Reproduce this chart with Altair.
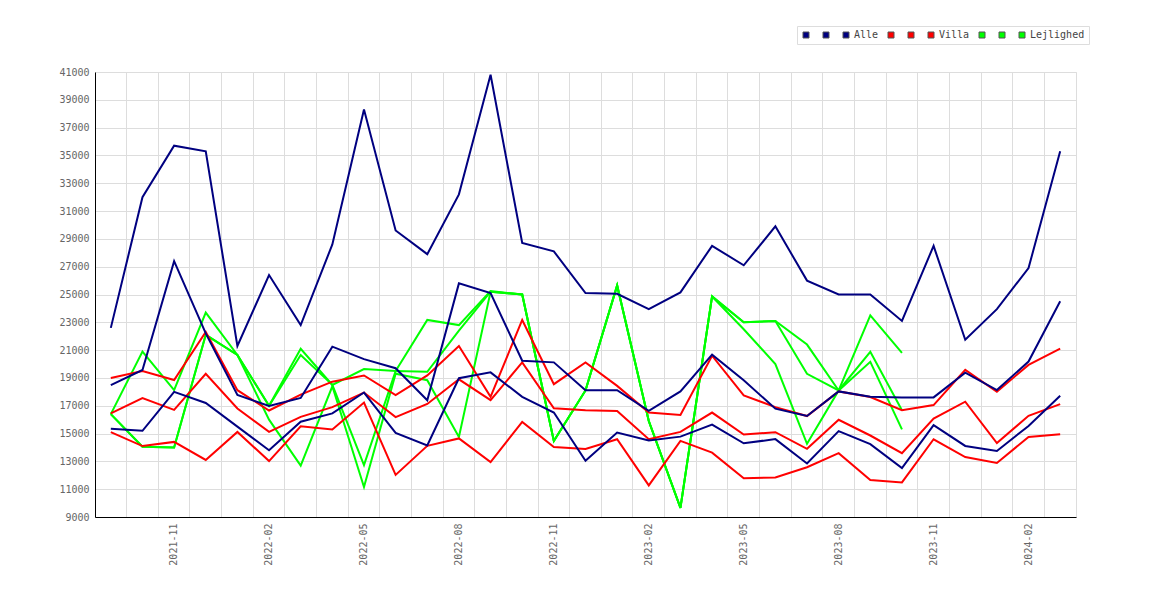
import altair as alt
import pandas as pd

months = ["2021-09", "2021-10", "2021-11", "2021-12", "2022-01", "2022-02", "2022-03",
          "2022-04", "2022-05", "2022-06", "2022-07", "2022-08", "2022-09", "2022-10",
          "2022-11", "2022-12", "2023-01", "2023-02", "2023-03", "2023-04", "2023-05",
          "2023-06", "2023-07", "2023-08", "2023-09", "2023-10", "2023-11", "2023-12",
          "2024-01", "2024-02", "2024-03"]

alle_high = [22600, 32000, 35700, 35300, 21300, 26400, 22800, 28600, 38300, 29600, 27900,
             32200, 40800, 28700, 28100, 25100, 25050, 23950, 25150, 28500, 27100, 29900,
             26000, 25000, 25000, 23100, 28500, 21750, 23950, 26900, 35300]
alle_mid = [18490, 19570, 27400, 22200, 17770, 16980, 17560, 21250, 20350, 19700, 17400,
            25800, 25100, 20240, 20120, 18120, 18120, 16630, 18030, 20670, 18830, 16790,
            16260, 18030, 17650, 17600, 17600, 19380, 18130, 20180, 24520]
alle_low = [15340, 15200, 18000, 17200, 15500, 13800, 15850, 16450, 17950, 15050, 14150,
            18980, 19400, 17640, 16510, 13050, 15070, 14510, 14780, 15640, 14300, 14600,
            12850, 15180, 14240, 12520, 15600, 14110, 13750, 15550, 17720]

villa_high = [19000, 19500, 18850, 22300, 18120, 16660, 17800, 18730, 19180, 17760, 19180,
              21300, 17640, 23170, 18550, 20120, 18430, 16510, 16340, 20600, 17750, 16900,
              16260, 18030, 17630, 16680, 17050, 19580, 18010, 19940, 21100]
villa_mid = [16450, 17550, 16700, 19300, 16800, 15120, 16200, 16900, 17950, 16180, 17130,
             18900, 17400, 20120, 16820, 16680, 16630, 14590, 15120, 16510, 14930, 15100,
             13900, 15990, 14860, 13590, 16080, 17290, 14320, 16280, 17120]
villa_low = [15100, 14100, 14400, 13100, 15120, 13020, 15520, 15300, 17230, 12030, 14120,
             14650, 12950, 15840, 14030, 13890, 14590, 11270, 14470, 13630, 11780, 11840,
             12580, 13590, 11660, 11490, 14590, 13310, 12880, 14760, 14950]

lej_high = [16400, 20900, 18130, 23700, 20650, 17000, 21100, 18500, 19640, 19500, 23170,
            22800, 25250, 25000, 14470, 18100, 25650, 15900, 9650, 24860, 23000, 23100,
            21400, 18100, 23500, 20800]
lej_mid = [16400, 14050, 14000, 22100, 20650, 17000, 20650, 18500, 12730, 19500, 19440,
           22400, 25200, 25000, 14470, 18100, 25650, 15900, 9650, 24860, 23000, 23100,
           19300, 18100, 20880, 16670]
lej_low = [16400, 14050, 14000, 22100, 20650, 16000, 12700, 18400, 11150, 19300, 18840,
           14750, 25200, 25000, 14470, 18100, 25650, 15900, 9650, 24860, 22500, 20000,
           14260, 18100, 20160, 15300]

categories = ["Alle", "Villa", "Lejlighed"]
colors = {"Alle": "#000080", "Villa": "#ff0000", "Lejlighed": "#00ff00"}
series_data = {
    "Alle": [alle_low, alle_mid, alle_high],
    "Villa": [villa_low, villa_mid, villa_high],
    "Lejlighed": [lej_low, lej_mid, lej_high],
}

rows = []
domain = []
legend_domain = []
rng = []
for cat in categories:
    names = [cat + "_1", cat + "_2", cat]
    keys = [cat + " 1", cat + " 2", cat]
    for name, key, vals in zip(names, keys, series_data[cat]):
        domain.append(name)
        legend_domain.append(key)
        rng.append(colors[cat])
        for m, v in zip(months, vals):
            rows.append({"month": m, "value": v, "series": name, "key": key, "cat": cat})
df = pd.DataFrame(rows)

FONT = "DejaVu Sans Mono"

x_enc = alt.X(
    "month:O",
    sort=months,
    scale=alt.Scale(type="band", paddingInner=0, paddingOuter=0),
    axis=alt.Axis(
        title=None, grid=True, gridColor="#dddddd", bandPosition=0, ticks=False,
        labelAngle=-90, labelPadding=6,
        labelExpr="indexof(['02','05','08','11'], slice(datum.value, 5)) >= 0 ? datum.label : ''",
        labelColor="#666666", labelFontSize=10, labelFont=FONT, labelOverlap=False,
        domainColor="#000000", domainWidth=1,
    ),
)
y_enc = alt.Y(
    "value:Q",
    scale=alt.Scale(domain=[9000, 41000], nice=False, zero=False),
    axis=alt.Axis(
        title=None, values=list(range(9000, 41001, 2000)), format="d", grid=True,
        gridColor="#dddddd", ticks=False, labelPadding=6, labelColor="#666666",
        labelFontSize=10, labelFont=FONT, domainColor="#000000", domainWidth=1,
    ),
)

color_scale = alt.Scale(domain=domain, range=rng)

layers = []
for cat in ["Lejlighed", "Villa", "Alle"]:
    layers.append(
        alt.Chart(df)
        .transform_filter(alt.datum.cat == cat)
        .mark_line(strokeWidth=2)
        .encode(x=x_enc, y=y_enc,
                color=alt.Color("series:N", scale=color_scale, legend=None))
    )

legend_layer = alt.Chart(df).mark_square(size=0).encode(
    x=x_enc, y=y_enc,
    fill=alt.Fill(
        "key:N", scale=alt.Scale(domain=legend_domain, range=rng),
        legend=alt.Legend(
            orient="none", legendX=702, legendY=-46, direction="horizontal", columns=9,
            title=None, symbolType="square", symbolSize=36, symbolStrokeColor="#555555",
            symbolStrokeWidth=1, symbolOpacity=1,
            labelExpr="indexof(['Alle', 'Villa', 'Lejlighed'], datum.label) >= 0 ? datum.label : '\u00a0'",
            labelFont=FONT, labelFontSize=10, labelColor="#444444", labelOffset=3,
            columnPadding=7, padding=4, strokeColor="#dddddd",
        ),
    ),
)

chart = alt.layer(*layers, legend_layer).properties(
    width=981, height=445,
    autosize=alt.AutoSizeParams(type="none"),
    padding={"left": 87, "top": 64, "right": 86, "bottom": 75},
).configure(font=FONT).configure_view(stroke="#dddddd")

chart.save("out.html", embed_options={"renderer": "svg", "actions": False})
